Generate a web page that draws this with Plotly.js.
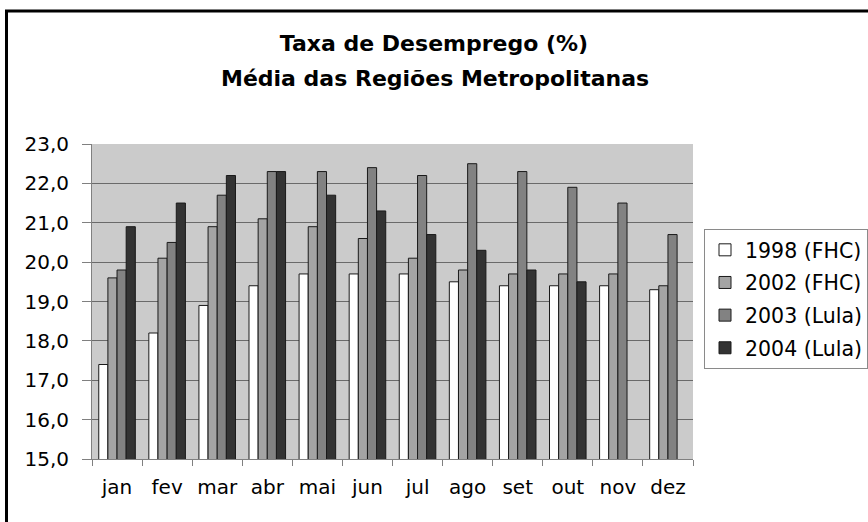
<!DOCTYPE html>
<html>
<head>
<meta charset="utf-8">
<script src="https://cdn.plot.ly/plotly-3.0.1.min.js"></script>
<style>
  html, body { margin: 0; padding: 0; background: #ffffff; }
  #chart { width: 868px; height: 522px; }
</style>
</head>
<body>
<div id="chart"></div>
<script>
// ---- data ----
const months = ['jan','fev','mar','abr','mai','jun','jul','ago','set','out','nov','dez'];
const seriesNames = ['1998 (FHC)', '2002 (FHC)', '2003 (Lula)', '2004 (Lula)'];
const y1998 = [17.4, 18.2, 18.9, 19.4, 19.7, 19.7, 19.7, 19.5, 19.4, 19.4, 19.4, 19.3];
const y2002 = [19.6, 20.1, 20.9, 21.1, 20.9, 20.6, 20.1, 19.8, 19.7, 19.7, 19.7, 19.4];
const y2003 = [19.8, 20.5, 21.7, 22.3, 22.3, 22.4, 22.2, 22.5, 22.3, 21.9, 21.5, 20.7];
const y2004 = [20.9, 21.5, 22.2, 22.3, 21.7, 21.3, 20.7, 20.3, 19.8, 19.5, null, null];
const yTickVals = [15, 16, 17, 18, 19, 20, 21, 22, 23];

const titleLine1 = 'Taxa de Desemprego (%)';
const titleLine2 = 'Média das Regiões Metropolitanas';

// ---- styles ----
const colors = ['#ffffff', '#a4a4a4', '#828282', '#333333'];
const FONT = 'DejaVu Sans, Liberation Sans, Arial, sans-serif';

const allY = [y1998, y2002, y2003, y2004];
const traces = allY.map((ys, i) => ({
  type: 'bar',
  name: seriesNames[i],
  x: months,
  y: ys,
  legendgroup: 'g' + i,
  marker: { color: colors[i], line: { color: '#1a1a1a', width: 1 } },
  hoverinfo: 'x+y+name'
}));

// plot-area pixel geometry
const L = 92, R = 693, T = 144, B = 459, W = 868, H = 522;
const px2x = p => (p - L) / (R - L);
const py2y = p => (B - p) / (B - T);

const layout = {
  width: W, height: H,
  margin: { l: L, r: W - R, t: T, b: H - B, pad: 0, autoexpand: false },
  paper_bgcolor: '#ffffff',
  plot_bgcolor: '#cbcbcb',
  font: { family: FONT, size: 20, color: '#000000' },
  barmode: 'group',
  bargap: 0.27,
  bargroupgap: 0,
  separators: ',.',
  title: {
    text: titleLine1,
    font: { family: FONT, size: 22, color: '#000', weight: 'bold' },
    xref: 'container', x: 0.5, xanchor: 'center',
    yref: 'container', y: 1 - 43 / H, yanchor: 'middle'
  },
  annotations: [{
    text: titleLine2,
    showarrow: false,
    font: { family: FONT, size: 22, color: '#000', weight: 'bold' },
    xref: 'paper', x: px2x(435), xanchor: 'center',
    yref: 'paper', y: py2y(78), yanchor: 'middle'
  }],
  xaxis: {
    type: 'category',
    range: [-0.5, 11.5],
    automargin: false,
    tickangle: 0,
    showline: true, linecolor: '#808080', linewidth: 1,
    ticks: 'outside', tickson: 'boundaries', ticklen: 6, tickcolor: '#808080', tickwidth: 1,
    showgrid: false,
    tickfont: { family: FONT, size: 20, color: '#000' },
    ticklabelstandoff: 10,
    fixedrange: true
  },
  yaxis: {
    range: [15, 23],
    automargin: false,
    tickvals: yTickVals,
    tickformat: '.1f',
    showline: true, linecolor: '#808080', linewidth: 1,
    ticks: 'outside', ticklen: 9, tickcolor: '#808080', tickwidth: 1,
    showgrid: true, gridcolor: '#6a6a6a', gridwidth: 1,
    zeroline: false,
    tickfont: { family: FONT, size: 20, color: '#000' },
    ticklabelstandoff: 9,
    fixedrange: true
  },
  legend: {
    x: px2x(704), xanchor: 'left',
    y: py2y(229), yanchor: 'top',
    bgcolor: '#ffffff', bordercolor: '#8a8a8a', borderwidth: 1,
    font: { family: FONT, size: 20.5, color: '#000' },
    traceorder: 'grouped',
    tracegroupgap: 3,
    itemwidth: 30
  },
  shapes: [{
    type: 'rect', xref: 'paper', yref: 'paper',
    x0: px2x(6.5), x1: px2x(900), y0: py2y(560), y1: py2y(11),
    line: { color: '#000000', width: 3 }, fillcolor: 'rgba(0,0,0,0)',
    layer: 'above'
  }],
  showlegend: true
};

Plotly.newPlot('chart', traces, layout, { displayModeBar: false, staticPlot: true });
</script>
</body>
</html>
